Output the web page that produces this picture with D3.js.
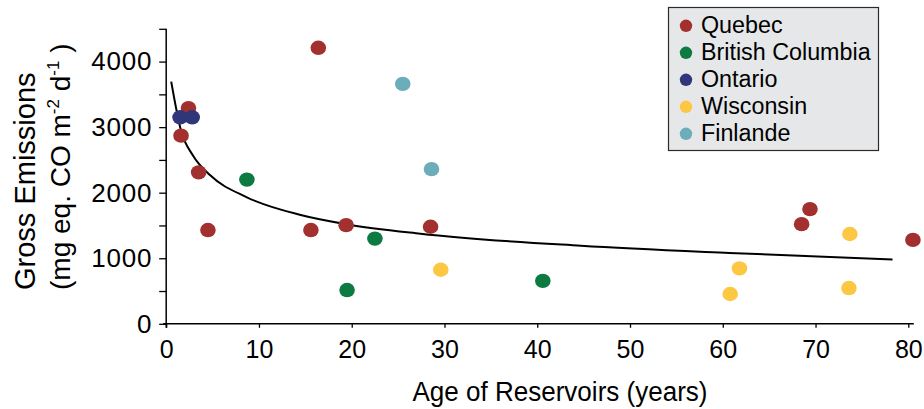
<!DOCTYPE html>
<html>
<head>
<meta charset="utf-8">
<script src="https://cdn.jsdelivr.net/npm/d3@7"></script>
<style>
  html, body { margin: 0; padding: 0; background: #ffffff; }
  svg { display: block; font-family: "Liberation Sans", Arial, Helvetica, sans-serif; }
  .tick text { fill: #000; }
</style>
</head>
<body>
<svg id="chart" width="924" height="409"></svg>
<script>
// Reservoir age (years) and gross emissions (mg eq. CO m-2 d-1) by region
const regions = ["Quebec", "British Columbia", "Ontario", "Wisconsin", "Finlande"];
const regionColors = ["#a2302e", "#0d7a41", "#2f3679", "#fcc743", "#6badbb"];

const quebecAge   = [1.6, 2.4, 3.5, 4.5, 15.6, 16.4, 19.4, 28.5, 68.5, 69.4, 80.5];
const quebecEmis  = [2870, 3290, 2310, 1430, 1430, 4210, 1505, 1480, 1520, 1750, 1280];
const bcAge       = [8.7, 19.5, 22.5, 40.6];
const bcEmis      = [2200, 515, 1300, 655];
const ontarioAge  = [1.5, 2.8];
const ontarioEmis = [3150, 3150];
const wiscAge     = [29.6, 60.8, 61.8, 73.6, 73.7];
const wiscEmis    = [825, 455, 845, 545, 1370];
const finAge      = [25.5, 28.6];
const finEmis     = [3660, 2360];

// Fitted trend curve, sampled along its length
const trendAge  = [0.54, 1.6, 2.9, 4.75, 8.7, 14.5, 19.4, 27.4, 44.7, 60.7, 78.3];
const trendEmis = [3695, 2945, 2565, 2265, 1930, 1660, 1520, 1375, 1190, 1080, 982];

const xTicks = [0, 10, 20, 30, 40, 50, 60, 70, 80];
const yTicks = [0, 500, 1000, 1500, 2000, 2500, 3000, 3500, 4000, 4500];
const yLabelled = [0, 1000, 2000, 3000, 4000];

const seriesAges = [quebecAge, bcAge, ontarioAge, wiscAge, finAge];
const seriesEmis = [quebecEmis, bcEmis, ontarioEmis, wiscEmis, finEmis];

const svg = d3.select("#chart");

const x = d3.scaleLinear().domain([0, 80]).range([166.2, 908.3]);
const y = d3.scaleLinear().domain([0, 4500]).range([323.8, 28.8]);

// Axes
const yAxis = d3.axisLeft(y)
  .tickValues(yTicks)
  .tickSize(7)
  .tickPadding(7)
  .tickFormat(d => yLabelled.includes(d) ? String(d) : "");
const gy = svg.append("g").attr("transform", `translate(${x(0)},0)`).call(yAxis);
gy.select(".domain").remove();
gy.selectAll(".tick line").attr("stroke", "#000").attr("stroke-width", 1.3);
gy.selectAll(".tick text").attr("font-size", 26).attr("letter-spacing", 0.8);

const xAxis = d3.axisBottom(x)
  .tickValues(xTicks)
  .tickSize(4)
  .tickPadding(12)
  .tickFormat(d3.format("d"));
const gx = svg.append("g").attr("transform", `translate(0,${y(0)})`).call(xAxis);
gx.select(".domain").remove();
gx.selectAll(".tick line").attr("stroke", "#000").attr("stroke-width", 1.3);
gx.selectAll(".tick text").attr("font-size", 25);

// Axis lines
svg.append("line")
  .attr("x1", x(0)).attr("x2", x(0))
  .attr("y1", y(4500)).attr("y2", y(0) + 4)
  .attr("stroke", "#000").attr("stroke-width", 1.5);
svg.append("line")
  .attr("x1", x(0) - 3).attr("x2", x(80.6))
  .attr("y1", y(0)).attr("y2", y(0))
  .attr("stroke", "#000").attr("stroke-width", 1.5);

// Axis titles
svg.append("text")
  .attr("x", 560).attr("y", 401)
  .attr("text-anchor", "middle")
  .attr("font-size", 27)
  .attr("textLength", 295).attr("lengthAdjust", "spacingAndGlyphs")
  .text("Age of Reservoirs (years)");

const yTitle = svg.append("g").attr("transform", "translate(0,290) rotate(-90)");
yTitle.append("text")
  .attr("x", 0).attr("y", 35)
  .attr("font-size", 29)
  .text("Gross Emissions");
const unit = yTitle.append("text")
  .attr("x", 0).attr("y", 70)
  .attr("font-size", 28);
unit.append("tspan").text("(mg eq. CO m");
unit.append("tspan").attr("font-size", 17).attr("dy", -11).text("-2");
unit.append("tspan").attr("dy", 11).text(" d");
unit.append("tspan").attr("font-size", 17).attr("dy", -11).text("-1");
unit.append("tspan").attr("dy", 11).text(" )");

// Trend curve
const trend = trendAge.map((a, i) => [a, trendEmis[i]]);
svg.append("path")
  .datum(trend)
  .attr("fill", "none")
  .attr("stroke", "#000")
  .attr("stroke-width", 2)
  .attr("d", d3.line().x(d => x(d[0])).y(d => y(d[1])).curve(d3.curveMonotoneX));

// Points
regions.forEach((r, i) => {
  const pts = seriesAges[i].map((a, j) => [a, seriesEmis[i][j]]);
  svg.append("g").selectAll("ellipse")
    .data(pts)
    .join("ellipse")
    .attr("cx", d => x(d[0]))
    .attr("cy", d => y(d[1]))
    .attr("rx", 7.8)
    .attr("ry", 7.2)
    .attr("fill", regionColors[i]);
});

// Legend
const legend = svg.append("g");
legend.append("rect")
  .attr("x", 668.5).attr("y", 7.5)
  .attr("width", 210).attr("height", 143)
  .attr("fill", "#e6e7e8")
  .attr("stroke", "#2b2b2b").attr("stroke-width", 1.2);
regions.forEach((r, i) => {
  const cy = 25.8 + i * 27;
  legend.append("circle")
    .attr("cx", 686).attr("cy", cy).attr("r", 6.2)
    .attr("fill", regionColors[i]);
  legend.append("text")
    .attr("x", 701).attr("y", cy + 6.8)
    .attr("font-size", 23.3)
    .text(r);
});
</script>
</body>
</html>
